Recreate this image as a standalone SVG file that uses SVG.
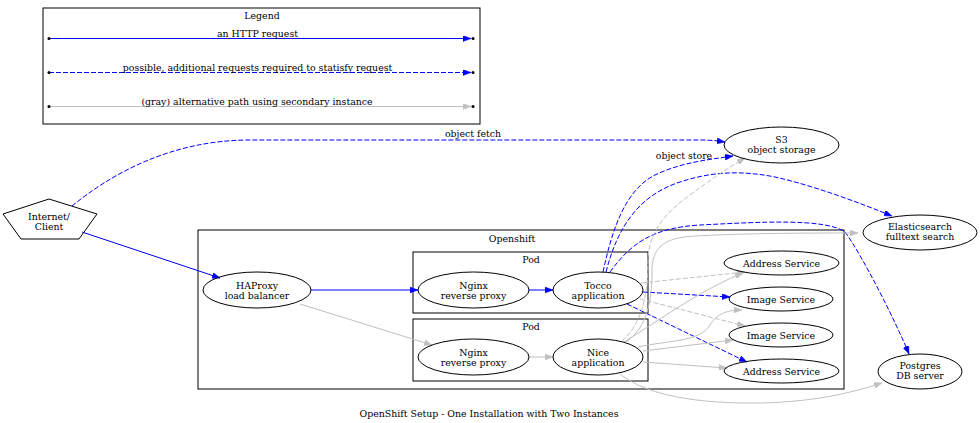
<svg xmlns="http://www.w3.org/2000/svg" width="980" height="423" viewBox="0 0 980 423">
<defs>
<style>
text{font-family:"DejaVu Serif","Liberation Serif",serif;font-size:9.4px;fill:#000;text-anchor:middle}
.node{fill:none;stroke:#000;stroke-width:1}
.box{fill:none;stroke:#000;stroke-width:1}
.b{fill:none;stroke:#0000ff;stroke-width:1}
.bd{fill:none;stroke:#0000ff;stroke-width:1;stroke-dasharray:5,2}
.g{fill:none;stroke:#c0c0c0;stroke-width:1}
.gd{fill:none;stroke:#c0c0c0;stroke-width:1;stroke-dasharray:5,2}
.ab{marker-end:url(#ab)}
.ag{marker-end:url(#ag)}
</style>
<marker id="ab" viewBox="0 0 8 6" refX="8" refY="3" markerWidth="8" markerHeight="6" orient="auto" markerUnits="userSpaceOnUse"><path d="M0,0 L8,3 L0,6 Z" fill="#0000ff" stroke="#0000ff" stroke-width="0.5"/></marker>
<marker id="ag" viewBox="0 0 8 6" refX="8" refY="3" markerWidth="8" markerHeight="6" orient="auto" markerUnits="userSpaceOnUse"><path d="M0,0 L8,3 L0,6 Z" fill="#c0c0c0" stroke="#c0c0c0" stroke-width="0.5"/></marker>
</defs>
<rect x="0" y="0" width="980" height="423" fill="#fff"/>

<g id="legend">
<rect class="box" x="43" y="8" width="437" height="116"/>
<text x="262" y="18.5">Legend</text>
<path class="b ab" d="M49,38.5 L471,38.5"/>
<circle cx="49" cy="38.5" r="1.5" fill="#000"/><circle cx="473" cy="38.5" r="1.5" fill="#000"/>
<text x="257.5" y="36.5">an HTTP request</text>
<path class="bd ab" d="M49,72.5 L471,72.5"/>
<circle cx="49" cy="72.5" r="1.5" fill="#000"/><circle cx="473" cy="72.5" r="1.5" fill="#000"/>
<text x="257.5" y="70.5">possible, additional requests required to statisfy request</text>
<path class="g ag" d="M49,106.5 L471,106.5"/>
<circle cx="49" cy="106.5" r="1.5" fill="#000"/><circle cx="473" cy="106.5" r="1.5" fill="#000"/>
<text x="257" y="104.5">(gray) alternative path using secondary instance</text>
</g>

<g id="cluster_openshift">
<rect class="box" x="198" y="230" width="646" height="159"/>
<text x="512" y="241.5">Openshift</text>
</g>
<g id="cluster_pod1">
<rect class="box" x="413" y="252" width="235" height="61"/>
<text x="531" y="262.5">Pod</text>
</g>
<g id="cluster_pod2">
<rect class="box" x="413" y="319" width="235" height="62"/>
<text x="531" y="329.5">Pod</text>
</g>

<g id="edges">
<path class="b ab" d="M82,232 L220,278"/>
<path class="b ab" d="M311,290 L418,290"/>
<path class="b ab" d="M529,290 L553,290"/>
<path class="g ag" d="M300,304 L432,345"/>
<path class="g ag" d="M529,357 L553,357"/>
<path class="bd ab" d="M72,206 C110,175 170,140 250,140 L700,140 C712,140 718,141 725,142"/>
<text x="473" y="137">object fetch</text>
<path class="bd ab" d="M603,272 C612,230 625,190 655,175 C680,163 705,160 733,156"/>
<text x="684" y="158.5">object store</text>
<path class="bd ab" d="M606,272 C618,225 640,195 680,182 C710,172 740,170 775,177 C815,186 860,203 892,216"/>
<path class="bd ab" d="M610,272 C630,245 650,228 700,225 C760,222 825,218 845,232 C862,255 895,320 909,354"/>
<path class="gd ag" d="M641,283 L745,272"/>
<path class="bd ab" d="M643,292 L730,297"/>
<path class="gd ag" d="M640,299 L745,326"/>
<path class="bd ab" d="M627,304 L747,362"/>
<path class="gd ag" d="M622,341 C640,325 648,300 648,262 C648,235 662,215 690,195 C710,180 728,168 745,158"/>
<path class="g ag" d="M626,342 C643,330 652,310 652,272 C652,248 662,238 695,236 C750,233 810,233 858,233"/>
<path class="g ag" d="M624,342 C660,320 700,290 743,273"/>
<path class="g ag" d="M638,347 C670,340 700,342 710,325 C718,312 730,310 742,310"/>
<path class="g ag" d="M643,351 L733,340"/>
<path class="g ag" d="M643,362 L727,368"/>
<path class="g ag" d="M620,374 C640,390 680,404 760,403 C820,402 860,390 882,383"/>
</g>

<g id="internet">
<polygon class="node" points="49,199 97,214 79,239 21,239 3,214"/>
<text x="49" y="219.5">Internet/</text>
<text x="49" y="229.5">Client</text>
</g>
<g id="haproxy">
<ellipse class="node" cx="257" cy="290" rx="54" ry="18"/>
<text x="257" y="288.5">HAProxy</text>
<text x="257" y="298.5">load balancer</text>
</g>
<g id="nginx1">
<ellipse class="node" cx="473.5" cy="290" rx="55.5" ry="18"/>
<text x="473.5" y="288.5">Nginx</text>
<text x="473.5" y="298.5">reverse proxy</text>
</g>
<g id="tocco">
<ellipse class="node" cx="598" cy="290" rx="45" ry="18"/>
<text x="598" y="288.5">Tocco</text>
<text x="598" y="298.5">application</text>
</g>
<g id="nginx2">
<ellipse class="node" cx="473.5" cy="357" rx="55.5" ry="18"/>
<text x="473.5" y="355.5">Nginx</text>
<text x="473.5" y="365.5">reverse proxy</text>
</g>
<g id="nice">
<ellipse class="node" cx="598" cy="357" rx="45" ry="18"/>
<text x="598" y="355.5">Nice</text>
<text x="598" y="365.5">application</text>
</g>
<g id="address1">
<ellipse class="node" cx="781.5" cy="263" rx="57.5" ry="12"/>
<text x="781.5" y="266.5">Address Service</text>
</g>
<g id="image1">
<ellipse class="node" cx="781" cy="299" rx="52" ry="12"/>
<text x="781" y="302.5">Image Service</text>
</g>
<g id="image2">
<ellipse class="node" cx="781" cy="335" rx="52" ry="12"/>
<text x="781" y="338.5">Image Service</text>
</g>
<g id="address2">
<ellipse class="node" cx="781.5" cy="371" rx="57.5" ry="12"/>
<text x="781.5" y="374.5">Address Service</text>
</g>
<g id="s3">
<ellipse class="node" cx="781.5" cy="145" rx="57.5" ry="18"/>
<text x="781.5" y="142.5">S3</text>
<text x="781.5" y="152.5">object storage</text>
</g>
<g id="elasticsearch">
<ellipse class="node" cx="920" cy="232.5" rx="57" ry="17.5"/>
<text x="920" y="230">Elasticsearch</text>
<text x="920" y="240">fulltext search</text>
</g>
<g id="postgres">
<ellipse class="node" cx="920" cy="371.5" rx="42" ry="17.5"/>
<text x="920" y="369">Postgres</text>
<text x="920" y="379">DB server</text>
</g>

<text x="489" y="416.5">OpenShift Setup - One Installation with Two Instances</text>
</svg>
